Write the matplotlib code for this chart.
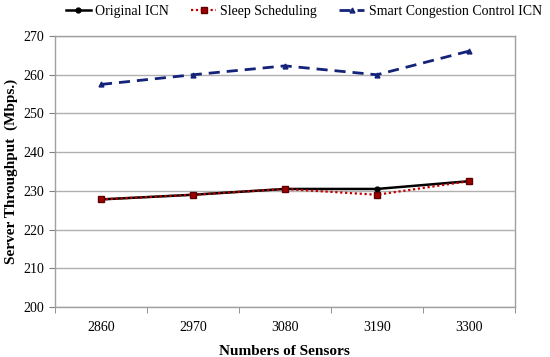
import numpy as np
import matplotlib
matplotlib.use("Agg")
import matplotlib.pyplot as plt

plt.rcParams['font.family'] = ['Liberation Serif', 'DejaVu Serif']

# Data
sensors = ["2860", "2970", "3080", "3190", "3300"]
original_icn = [227.8, 229.0, 230.5, 230.5, 232.5]
sleep_sched = [227.8, 229.0, 230.5, 229.0, 232.5]
smart_cc_icn = [257.5, 260.0, 262.3, 260.0, 266.1]

fig = plt.figure(figsize=(5.5, 3.57), dpi=100)
ax = fig.add_axes([0.1, 0.14, 0.836, 0.759])

x = np.arange(len(sensors))

ax.plot(x, original_icn, color='black', lw=1.8, marker='o', ms=3.5,
        label='Original ICN', zorder=3)
ax.plot(x, sleep_sched, color='#c00000', lw=1.6, ls=(0, (1, 1.2)), marker='s',
        ms=4, mfc='#a00000', mec='#600000', label='Sleep Scheduling', zorder=4)
ax.plot(x, smart_cc_icn, color='#14237a', lw=2, ls=(0, (4, 2.5)), marker='^',
        ms=3.5, label='Smart Congestion Control ICN', zorder=3)

ax.set_xlim(-0.5, len(sensors) - 0.5)
ax.set_ylim(200, 270)
ax.set_yticks(np.arange(200, 271, 10))
ax.set_xticks(x)
ax.set_xticklabels(sensors)
ax.set_xticks(np.arange(-0.5, len(sensors)), minor=True)
ax.tick_params(axis='x', which='major', length=0, pad=10, labelsize=10)
ax.tick_params(axis='x', which='minor', length=4, color='#808080')
ax.tick_params(axis='y', length=4, color='#808080', labelsize=10)

ax.yaxis.grid(True, color='#b0b0b0', lw=1)
ax.set_axisbelow(True)
for s in ax.spines.values():
    s.set_color('#a0a0a0')
    s.set_linewidth(1)

ax.set_xlabel('Numbers of Sensors', fontweight='bold', fontsize=11, labelpad=8)
ax.set_ylabel('Server Throughput  (Mbps.)', fontweight='bold', fontsize=11)

fig.legend(loc='upper right', bbox_to_anchor=(1.0, 1.01), ncol=3,
           frameon=False, fontsize=10, handlelength=1.8, columnspacing=1.6,
           handletextpad=0.3, borderaxespad=0.2)

fig.savefig('out.png', dpi=100)
